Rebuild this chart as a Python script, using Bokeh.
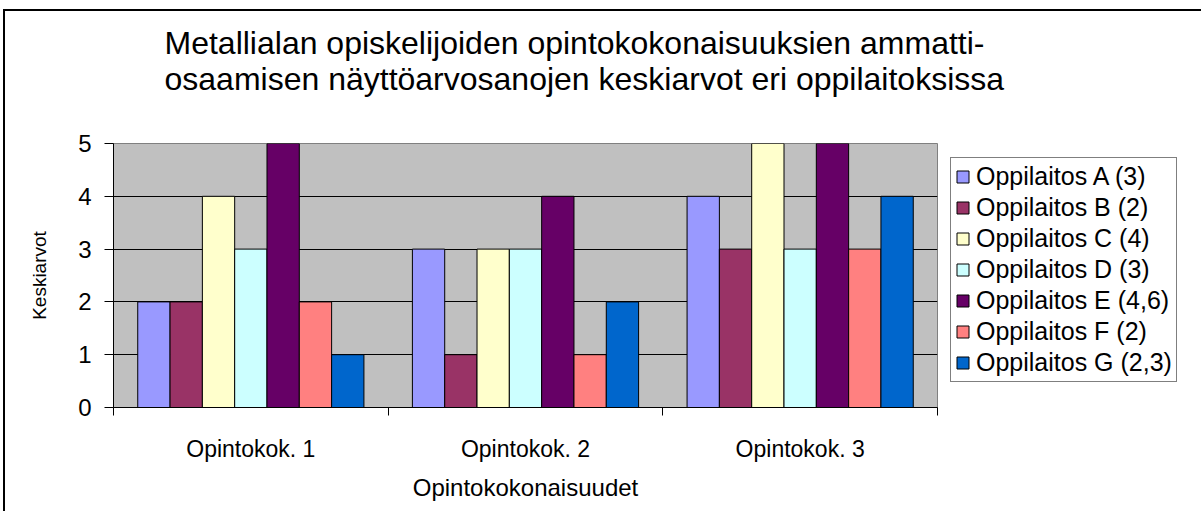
from bokeh.plotting import figure
from bokeh.models import (ColumnDataSource, Range1d, FixedTicker, Legend, LegendItem, Title)
from bokeh.transform import dodge
from bokeh.embed import file_html
from bokeh.resources import INLINE

# ---- data ----
categories = ["Opintokok. 1", "Opintokok. 2", "Opintokok. 3"]
series_names = ["Oppilaitos A (3)", "Oppilaitos B (2)", "Oppilaitos C (4)", "Oppilaitos D (3)",
                "Oppilaitos E (4,6)", "Oppilaitos F (2)", "Oppilaitos G (2,3)"]
oppilaitos_a = [2, 3, 4]
oppilaitos_b = [2, 1, 3]
oppilaitos_c = [4, 3, 5]
oppilaitos_d = [3, 3, 3]
oppilaitos_e = [5, 4, 5]
oppilaitos_f = [2, 1, 3]
oppilaitos_g = [1, 2, 4]
colors = ["#9999FF", "#993366", "#FFFFCC", "#CCFFFF", "#660066", "#FF8080", "#0066CC"]
y_ticks = [0, 1, 2, 3, 4, 5]
title_lines = ["Metallialan opiskelijoiden opintokokonaisuuksien ammatti-",
               "osaamisen näyttöarvosanojen keskiarvot eri oppilaitoksissa"]
x_label = "Opintokokonaisuudet"
y_label = "Keskiarvot"

all_series = [oppilaitos_a, oppilaitos_b, oppilaitos_c, oppilaitos_d,
              oppilaitos_e, oppilaitos_f, oppilaitos_g]

FONT = "Liberation Sans"
n_series = len(all_series)
bar_w = 1.0 / (n_series + 1.5)

p = figure(frame_width=824, frame_height=264, output_backend="svg", toolbar_location=None,
           x_range=Range1d(0, len(categories)), y_range=Range1d(0, 5),
           min_border_left=108, min_border_right=264, min_border_top=132, min_border_bottom=114,
           background_fill_color="#C0C0C0", border_fill_color="white",
           outline_line_color="#808080", outline_line_width=1)
p.styles = {"border": "2px solid black", "margin-left": "3px", "margin-top": "9px"}
p.title = None

# blank spacer between plot area and title
spacer = Title(text=" ", text_font=FONT, text_font_size="10px", text_line_height=1.0,
               text_color="white", standoff=34)
p.add_layout(spacer, "above")

title = Title(text="\n".join(title_lines), align="left", text_font=FONT,
              text_font_size="32px", text_font_style="normal", text_color="black",
              text_line_height=1.0, offset=51, standoff=0)
p.add_layout(title, "above")

xs = [i + 0.5 for i in range(len(categories))]
renderers = []
for k, (vals, col) in enumerate(zip(all_series, colors)):
    src = ColumnDataSource(dict(x=xs, top=vals))
    off = (k - (n_series - 1) / 2) * bar_w
    r = p.vbar(x=dodge("x", off, range=p.x_range), top="top", width=bar_w, bottom=0,
               source=src, fill_color=col, line_color="black", line_width=1)
    renderers.append(r)

# axes
xa = p.below[0]
xa.ticker = FixedTicker(ticks=xs, minor_ticks=list(range(len(categories) + 1)))
xa.major_label_overrides = {x: c for x, c in zip(xs, categories)}
xa.major_tick_out = 0
xa.major_tick_in = 0
xa.minor_tick_out = 8
xa.minor_tick_in = 0
xa.minor_tick_line_color = "black"
xa.major_label_standoff = 20
xa.major_label_text_font = FONT
xa.major_label_text_font_size = "23px"
xa.major_label_text_color = "black"
xa.axis_label = x_label
xa.axis_label_text_font = FONT
xa.axis_label_text_font_size = "24px"
xa.axis_label_text_font_style = "normal"
xa.axis_label_text_color = "black"
xa.axis_label_standoff = 9
xa.axis_line_color = "black"

ya = p.left[0]
ya.ticker = FixedTicker(ticks=y_ticks)
ya.minor_tick_line_color = None
ya.major_tick_out = 9
ya.major_tick_in = 0
ya.major_tick_line_color = "black"
ya.major_label_standoff = 13
ya.major_label_text_font = FONT
ya.major_label_text_font_size = "24px"
ya.major_label_text_color = "black"
ya.axis_label = y_label
ya.axis_label_text_font = FONT
ya.axis_label_text_font_size = "19px"
ya.axis_label_text_font_style = "normal"
ya.axis_label_text_color = "black"
ya.axis_label_standoff = 25
ya.axis_line_color = "black"

p.xgrid.grid_line_color = None
p.ygrid.grid_line_color = "black"
p.ygrid.grid_line_width = 1
p.ygrid.ticker = FixedTicker(ticks=y_ticks)

legend = Legend(items=[LegendItem(label=n, renderers=[r]) for n, r in zip(series_names, renderers)],
                location=(13, 25), orientation="vertical",
                background_fill_color="white", background_fill_alpha=1,
                border_line_color="black", border_line_width=1,
                label_text_font=FONT, label_text_font_size="25px", label_text_color="black",
                glyph_width=15, glyph_height=15, label_height=28, spacing=2,
                padding=4, margin=0, label_standoff=6)
p.add_layout(legend, "right")

open("out.html", "w").write(file_html(p, INLINE))
